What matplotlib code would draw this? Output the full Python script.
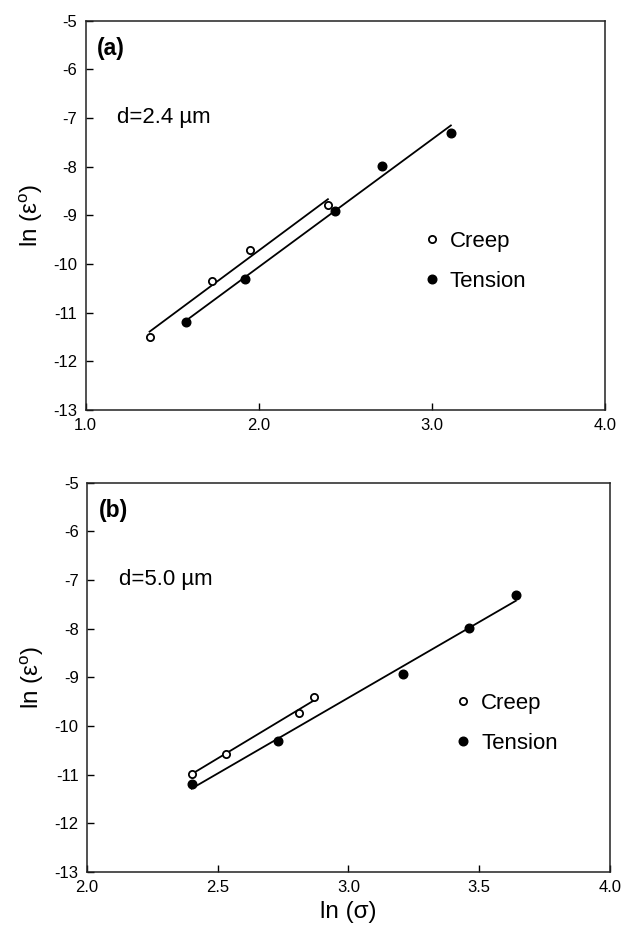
import numpy as np
import matplotlib
matplotlib.use("Agg")
import matplotlib.pyplot as plt

plt.rcParams['font.family'] = ['Liberation Sans', 'DejaVu Sans']
plt.rcParams['axes.unicode_minus'] = False
plt.rcParams['mathtext.fontset'] = 'custom'
plt.rcParams['mathtext.rm'] = 'Liberation Sans'

# Panel (a): d = 2.4 um
a_creep_x = [1.37, 1.73, 1.95, 2.40]
a_creep_y = [-11.51, -10.35, -9.72, -8.78]
a_tens_x = [1.58, 1.92, 2.44, 2.71, 3.11]
a_tens_y = [-11.20, -10.30, -8.92, -7.98, -7.31]

# Panel (b): d = 5.0 um
b_creep_x = [2.40, 2.53, 2.81, 2.87]
b_creep_y = [-10.98, -10.57, -9.73, -9.41]
b_tens_x = [2.40, 2.73, 3.21, 3.46, 3.64]
b_tens_y = [-11.20, -10.30, -8.93, -7.99, -7.31]

a_xticks = [1.0, 2.0, 3.0, 4.0]
b_xticks = [2.0, 2.5, 3.0, 3.5, 4.0]
yticks = [-13, -12, -11, -10, -9, -8, -7, -6, -5]

fig = plt.figure(figsize=(6.41, 9.41), dpi=100)
ax1 = fig.add_axes([0.1334, 0.5643, 0.8104, 0.4139])
ax2 = fig.add_axes([0.1357, 0.0733, 0.8159, 0.4139])


def fit_line(ax, x, y):
    x = np.asarray(x); y = np.asarray(y)
    k, b = np.polyfit(x, y, 1)
    xs = np.array([x.min(), x.max()])
    ax.plot(xs, k * xs + b, color='black', lw=1.3, zorder=2)


def panel(ax, cx, cy, tx, ty, xticks, xlim, label, dtext, legx):
    fit_line(ax, cx, cy)
    fit_line(ax, tx, ty)
    ax.plot(cx, cy, 'o', ls='none', ms=5.2, mfc='white', mec='black',
            mew=1.3, label='Creep', zorder=3)
    ax.plot(tx, ty, 'o', ls='none', ms=6.2, mfc='black', mec='black',
            label='Tension', zorder=3)
    ax.set_xlim(*xlim)
    ax.set_ylim(-13, -5)
    ax.set_xticks(xticks)
    ax.set_xticklabels([f"{v:.1f}" for v in xticks])
    ax.set_yticks(yticks)
    ax.set_yticklabels([str(v) for v in yticks])
    ax.tick_params(direction='in', length=5, width=1, labelsize=12, pad=6)
    for s in ax.spines.values():
        s.set_linewidth(1.1)
        s.set_color('#222222')
    ax.set_ylabel('ln (ε$^{\\mathregular{o}}$)', fontsize=17.5, labelpad=6)
    ax.text(0.022, 0.911, label, transform=ax.transAxes, fontsize=16.5,
            fontweight='bold', va='baseline', ha='left')
    ax.text(0.061, 0.736, dtext, transform=ax.transAxes, fontsize=16,
            va='baseline', ha='left')
    ax.legend(loc='center left', bbox_to_anchor=(legx, 0.381), frameon=False,
              fontsize=16, handlelength=0.5, handletextpad=0.55,
              labelspacing=0.85, borderpad=0, borderaxespad=0, numpoints=1)


panel(ax1, a_creep_x, a_creep_y, a_tens_x, a_tens_y, a_xticks, (1.0, 4.0),
      '(a)', 'd=2.4 µm', 0.656)
panel(ax2, b_creep_x, b_creep_y, b_tens_x, b_tens_y, b_xticks, (2.0, 4.0),
      '(b)', 'd=5.0 µm', 0.709)
ax2.set_xlabel('ln (σ)', fontsize=17.5, labelpad=4)

fig.savefig('out.png', dpi=100)
